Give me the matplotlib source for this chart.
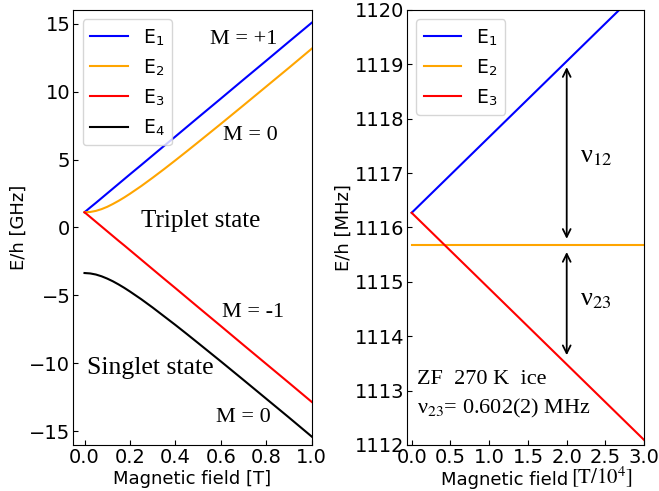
import numpy as np
import matplotlib.pyplot as plt

plt.rcParams['mathtext.fontset'] = 'stix'

# left panel: energy levels of muonium vs field
B = [0.0, 0.025, 0.05, 0.075, 0.1, 0.125, 0.15, 0.175, 0.2, 0.25, 0.3, 0.35,
     0.4, 0.45, 0.5, 0.6, 0.7, 0.8, 0.9, 1.0]
E1 = [1.12, 1.47, 1.81, 2.16, 2.51, 2.86, 3.21, 3.56, 3.91, 4.60, 5.30, 6.00,
      6.69, 7.39, 8.09, 9.48, 10.88, 12.27, 13.67, 15.06]
E2 = [1.12, 1.14, 1.22, 1.35, 1.52, 1.73, 1.96, 2.21, 2.48, 3.05, 3.66, 4.29,
      4.94, 5.60, 6.27, 7.62, 8.99, 10.37, 11.75, 13.15]
E3 = [1.12, 0.77, 0.42, 0.07, -0.28, -0.63, -0.98, -1.32, -1.67, -2.37, -3.07, -3.77,
      -4.46, -5.16, -5.86, -7.25, -8.65, -10.04, -11.43, -12.83]
E4 = [-3.35, -3.38, -3.46, -3.59, -3.76, -3.96, -4.19, -4.44, -4.71, -5.28, -5.89, -6.53,
      -7.17, -7.83, -8.50, -9.85, -11.22, -12.60, -13.98, -15.38]

# right panel: low field zoom, field in units of 1e-4 T
b = [0.0, 3.0]
e1 = [1116.27, 1120.45]
e2 = [1115.67, 1115.67]
e3 = [1116.27, 1112.09]

fig = plt.figure(figsize=(6.59, 4.91), dpi=100)
ax1 = fig.add_axes([0.111, 0.0937, 0.362, 0.886])
ax2 = fig.add_axes([0.6176, 0.0937, 0.360, 0.886])

ax1.plot(B, E1, color='blue', lw=1.5, label='E$_\\mathregular{1}$')
ax1.plot(B, E2, color='orange', lw=1.5, label='E$_\\mathregular{2}$')
ax1.plot(B, E3, color='red', lw=1.5, label='E$_\\mathregular{3}$')
ax1.plot(B, E4, color='black', lw=1.5, label='E$_\\mathregular{4}$')
ax1.set_xlim(-0.05, 1.0)
ax1.set_ylim(-16, 16)
ax1.set_xticks([0.0, 0.2, 0.4, 0.6, 0.8, 1.0])
ax1.set_yticks([-15, -10, -5, 0, 5, 10, 15])
ax1.set_xlabel('Magnetic field [T]', fontsize=13, labelpad=2)
ax1.set_ylabel('E/h [GHz]', fontsize=13, labelpad=1)
ax1.legend(loc='upper left', fontsize=13.5)

serif = 'Liberation Serif'
ax1.text(0.70, 13.8, 'M = +1', fontsize=16, family=serif, ha='center', va='center')
ax1.text(0.73, 6.8, 'M = 0', fontsize=16, family=serif, ha='center', va='center')
ax1.text(0.51, 0.47, 'Triplet state', fontsize=18, family=serif, ha='center', va='center')
ax1.text(0.74, -6.26, 'M = -1', fontsize=16, family=serif, ha='center', va='center')
ax1.text(0.29, -10.3, 'Singlet state', fontsize=18.5, family=serif, ha='center', va='center')
ax1.text(0.70, -14.0, 'M = 0', fontsize=16, family=serif, ha='center', va='center')

ax2.plot(b, e1, color='blue', lw=1.5, label='E$_\\mathregular{1}$')
ax2.plot(b, e2, color='orange', lw=1.5, label='E$_\\mathregular{2}$')
ax2.plot(b, e3, color='red', lw=1.5, label='E$_\\mathregular{3}$')
ax2.set_xlim(-0.06, 3.0)
ax2.set_ylim(1112, 1120)
ax2.set_xticks(np.arange(0, 3.01, 0.5))
ax2.set_ylabel('E/h [MHz]', fontsize=13, labelpad=1)
ax2.legend(loc='upper left', fontsize=13.5)
# x label: sans part plus a serif unit part
ax2.text(0.678, -0.091, 'Magnetic field', fontsize=13, ha='right', va='baseline',
         transform=ax2.transAxes)
ax2.text(0.693, -0.091, '$[\\mathrm{T}/10^4]$', fontsize=15, ha='left', va='baseline',
         transform=ax2.transAxes)

ax2.annotate('', xy=(2.0, 1119.0), xytext=(2.0, 1115.74),
             arrowprops=dict(arrowstyle='<->', color='black', lw=1.3, mutation_scale=14))
ax2.annotate('', xy=(2.0, 1115.6), xytext=(2.0, 1113.6),
             arrowprops=dict(arrowstyle='<->', color='black', lw=1.3, mutation_scale=14))
ax2.text(2.38, 1117.3, 'ν$_{\\mathrm{12}}$', fontsize=19, family=serif, ha='center', va='center')
ax2.text(2.38, 1114.67, 'ν$_{\\mathrm{23}}$', fontsize=19, family=serif, ha='center', va='center')
ax2.text(0.07, 1113.2, 'ZF  270 K  ice', fontsize=16, family=serif, va='center')
ax2.text(0.07, 1112.68, 'ν$_{\\mathrm{23}}$= 0.602(2) MHz', fontsize=16, family=serif, va='center')

for ax in (ax1, ax2):
    ax.tick_params(direction='in', labelsize=14, pad=2)

fig.savefig('out.png', dpi=100)
